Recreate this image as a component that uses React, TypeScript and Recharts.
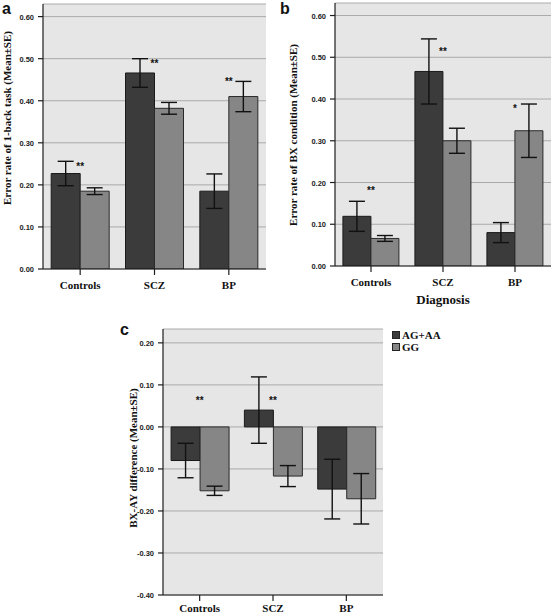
import React from 'react';
import { BarChart, Bar, XAxis, YAxis, CartesianGrid, ErrorBar, ReferenceDot, Legend, Label } from 'recharts';

const categories = ['Controls', 'SCZ', 'BP'];
const seriesNames = ['AG+AA', 'GG'];

// Panel a: Error rate of 1-back task
const aDark = [0.227, 0.466, 0.185];
const aDarkSe = [0.029, 0.034, 0.041];
const aLight = [0.185, 0.382, 0.41];
const aLightSe = [0.008, 0.014, 0.036];
const aStars = ['**', '**', '**'];
const aStarY = [0.243, 0.488, 0.445];
const aTicks = [0, 0.1, 0.2, 0.3, 0.4, 0.5, 0.6];

// Panel b: Error rate of BX condition
const bDark = [0.119, 0.466, 0.08];
const bDarkSe = [0.036, 0.078, 0.024];
const bLight = [0.066, 0.3, 0.324];
const bLightSe = [0.007, 0.03, 0.064];
const bStars = ['**', '**', '*'];
const bStarY = [0.182, 0.514, 0.378];
const bTicks = [0, 0.1, 0.2, 0.3, 0.4, 0.5, 0.6];

// Panel c: BX-AY difference
const cDark = [-0.08, 0.04, -0.148];
const cDarkSe = [0.041, 0.079, 0.071];
const cLight = [-0.152, -0.117, -0.171];
const cLightSe = [0.011, 0.025, 0.06];
const cStars = ['**', '**', ''];
const cStarY = [0.064, 0.064, 0];
const cTicks = [-0.4, -0.3, -0.2, -0.1, 0, 0.1, 0.2];

const DARK = '#3b3b3b';
const LIGHT = '#868686';
const BG = '#e6e6e6';
const GRID = '#aaaaaa';
const BORDER = '#9a9a9a';
const AXIS = '#1e1e1e';
const SERIF = '"Liberation Serif", "DejaVu Serif", serif';
const SANS = '"Liberation Sans", Arial, sans-serif';

function buildRows(dark: number[], darkSe: number[], light: number[], lightSe: number[]) {
  return categories.map((c, i) => ({
    cat: c,
    dark: dark[i],
    darkSe: darkSe[i],
    light: light[i],
    lightSe: lightSe[i],
  }));
}

const fmt = (v: number) => v.toFixed(2);

function CatTick(props: any) {
  const { x, y, payload, dyText } = props;
  return (
    <text x={x} y={y + dyText} textAnchor="middle" style={{ fontFamily: SERIF, fontWeight: 'bold', fontSize: 11, fill: '#111' }}>
      {payload.value}
    </text>
  );
}

function ValTick(props: any) {
  const { x, y, payload } = props;
  return (
    <text x={x - 2} y={y + 3} textAnchor="end" style={{ fontFamily: SANS, fontWeight: 'bold', fontSize: 7.5, fill: '#222' }}>
      {fmt(payload.value)}
    </text>
  );
}

function LegendContent() {
  const colors = [DARK, LIGHT];
  return (
    <div style={{ width: 80, fontFamily: SERIF, fontWeight: 'bold', fontSize: 11, color: '#111', lineHeight: '12px' }}>
      {seriesNames.map((n, i) => (
        <div key={n} style={{ display: 'flex', alignItems: 'center', height: 12 }}>
          <span style={{ flex: '0 0 auto', display: 'inline-block', width: 6, height: 6, background: colors[i], border: '1px solid #222', marginRight: 2 }} />
          <span>{n}</span>
        </div>
      ))}
    </div>
  );
}

type PanelProps = {
  rows: any[];
  width: number;
  height: number;
  margin: { top: number; right: number; bottom: number; left: number };
  yWidth: number;
  domain: [number, number];
  ticks: number[];
  stars: string[];
  starY: number[];
  xHeight: number;
  tickDy: number;
  xLabel?: string;
  legend?: boolean;
};

function Panel(p: PanelProps) {
  return (
    <BarChart width={p.width} height={p.height} data={p.rows} margin={p.margin} barCategoryGap="11%" barGap={0}>
      <CartesianGrid fill={BG} stroke={GRID} vertical={false} />
      <XAxis
        dataKey="cat"
        height={p.xHeight}
        axisLine={{ stroke: AXIS, strokeWidth: 1.2 }}
        tickLine={{ stroke: AXIS, strokeWidth: 1.2 }}
        tickSize={6}
        tick={<CatTick dyText={p.tickDy} />}
      >
        {p.xLabel ? (
          <Label
            content={(lp: any) => {
              const vb = lp.viewBox;
              return (
                <text x={vb.x + vb.width / 2} y={vb.y + vb.height - 6} textAnchor="middle"
                  style={{ fontFamily: SERIF, fontWeight: 'bold', fontSize: 13, fill: '#111' }}>
                  {p.xLabel}
                </text>
              );
            }}
          />
        ) : null}
      </XAxis>
      <XAxis xAxisId="top" dataKey="cat" orientation="top" height={0} tick={false} tickLine={false} axisLine={{ stroke: BORDER }} />
      <YAxis
        type="number"
        width={p.yWidth}
        domain={p.domain}
        ticks={p.ticks}
        interval={0}
        allowDataOverflow
        axisLine={{ stroke: AXIS, strokeWidth: 1.2 }}
        tickLine={{ stroke: AXIS, strokeWidth: 1.2 }}
        tickSize={5}
        tick={<ValTick />}
      />
      <YAxis yAxisId="right" orientation="right" width={0} type="number" domain={[0, 1]} tick={false} tickLine={false} axisLine={{ stroke: BORDER }} />
      <Bar dataKey="dark" name={seriesNames[0]} fill={DARK} stroke="#1a1a1a" strokeWidth={1} isAnimationActive={false}>
        <ErrorBar dataKey="darkSe" width={8} stroke="#111" strokeWidth={1.4} direction="y" />
      </Bar>
      <Bar dataKey="light" name={seriesNames[1]} fill={LIGHT} stroke="#2a2a2a" strokeWidth={1} isAnimationActive={false}>
        <ErrorBar dataKey="lightSe" width={8} stroke="#111" strokeWidth={1.4} direction="y" />
      </Bar>
      {categories.map((c, i) =>
        p.stars[i] ? (
          <ReferenceDot
            key={c}
            x={c}
            y={p.starY[i]}
            r={1}
            fill="none"
            stroke="none"
            label={{ value: p.stars[i], position: 'center', fontFamily: SANS, fontWeight: 'bold', fontSize: 10, fill: '#111' }}
          />
        ) : null
      )}
      {p.legend ? (
        <Legend
          layout="vertical"
          align="right"
          verticalAlign="top"
          content={() => <LegendContent />}
          wrapperStyle={{ left: 292, top: 29, width: 0, height: 0, overflow: 'visible' }}
        />
      ) : null}
    </BarChart>
  );
}

function VTitle({ cx, cy, text, size = 11 }: { cx: number; cy: number; text: string; size?: number }) {
  return (
    <div
      style={{
        position: 'absolute',
        left: cx,
        top: cy,
        transform: 'translate(-50%, -50%) rotate(-90deg)',
        whiteSpace: 'nowrap',
        fontFamily: SERIF,
        fontWeight: 'bold',
        fontSize: size,
        color: '#111',
      }}
    >
      {text}
    </div>
  );
}

function Letter({ x, y, text }: { x: number; y: number; text: string }) {
  return (
    <div style={{ position: 'absolute', left: x, top: y, fontFamily: SANS, fontWeight: 'bold', fontSize: 16, lineHeight: '16px', color: '#111' }}>
      {text}
    </div>
  );
}

export default function App() {
  const rowsA = buildRows(aDark, aDarkSe, aLight, aLightSe);
  const rowsB = buildRows(bDark, bDarkSe, bLight, bLightSe);
  const rowsC = buildRows(cDark, cDarkSe, cLight, cLightSe);
  return (
    <div style={{ position: 'absolute', left: 0, top: 0, width: 558, height: 615, background: '#fff', overflow: 'hidden' }}>
      <div style={{ position: 'absolute', left: 0, top: 0 }}>
        <Panel rows={rowsA} width={280} height={300} margin={{ top: 4, right: 14, bottom: 6, left: 0 }} yWidth={43}
          domain={[0, 0.63]} ticks={aTicks} stars={aStars} starY={aStarY} xHeight={25} tickDy={12} />
      </div>
      <div style={{ position: 'absolute', left: 278, top: 0 }}>
        <Panel rows={rowsB} width={280} height={310} margin={{ top: 3, right: 7, bottom: 0, left: 0 }} yWidth={57}
          domain={[0, 0.63]} ticks={bTicks} stars={bStars} starY={bStarY} xHeight={44} tickDy={12} xLabel="Diagnosis" />
      </div>
      <div style={{ position: 'absolute', left: 100, top: 300 }}>
        <Panel rows={rowsC} width={458} height={315} margin={{ top: 29, right: 175, bottom: 0, left: 0 }} yWidth={63}
          domain={[-0.4, 0.233]} ticks={cTicks} stars={cStars} starY={cStarY} xHeight={20} tickDy={9} legend />
      </div>
      <VTitle cx={7} cy={118} text="Error rate of 1-back task (Mean±SE)" />
      <VTitle cx={293} cy={135} text="Error rate of BX condition (Mean±SE)" />
      <VTitle cx={133} cy={458} text="BX-AY difference (Mean±SE)" />
      <Letter x={2} y={1} text="a" />
      <Letter x={280} y={1} text="b" />
      <Letter x={120} y={322} text="c" />
    </div>
  );
}
